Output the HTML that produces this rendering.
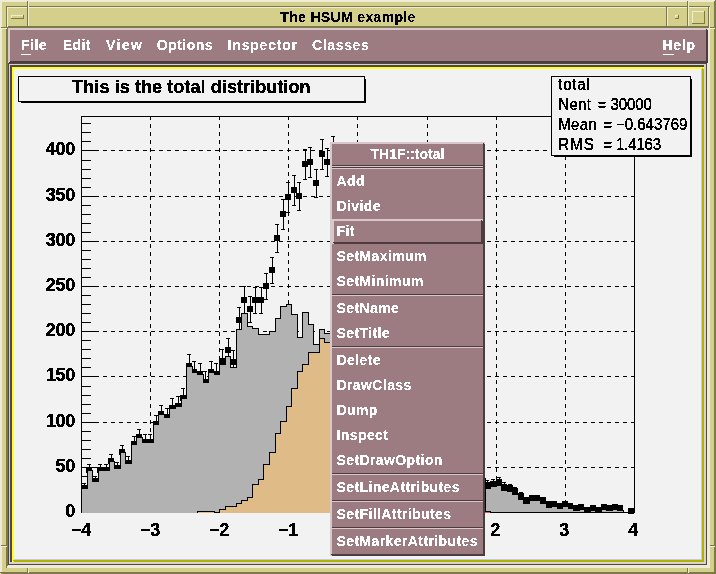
<!DOCTYPE html>
<html><head><meta charset="utf-8"><title>The HSUM example</title>
<style>
html,body{margin:0;padding:0;background:#d4d08c;}
body{width:716px;height:574px;position:relative;overflow:hidden;font-family:"Liberation Sans",sans-serif;}
div{position:absolute;}
.t{font-family:"Liberation Sans",sans-serif;white-space:pre;}
.b{font-weight:bold;}
.mi{font-size:14px;height:20px;line-height:20px;letter-spacing:0.2px;}
.ax{font-size:18px;height:20px;line-height:20px;color:#000;letter-spacing:-0.3px;}
.st{font-size:15px;height:20px;line-height:20px;color:#000;letter-spacing:0.3px;}
.pm{font-size:14px;letter-spacing:0.4px;}
.st span{display:inline-block;transform:scaleY(1.1);transform-origin:0 15.2px;}
.t{filter:url(#thr);}
.b{filter:url(#thb);}
.k,.st{filter:url(#thk);}
</style></head><body>
<svg width="0" height="0" style="position:absolute"><defs><filter id="thr" x="0" y="0" width="100%" height="100%" color-interpolation-filters="sRGB"><feComponentTransfer><feFuncA type="discrete" tableValues="0 1 1"/></feComponentTransfer></filter><filter id="thk" x="0" y="0" width="100%" height="100%" color-interpolation-filters="sRGB"><feComponentTransfer><feFuncA type="discrete" tableValues="0 1 1 1"/></feComponentTransfer></filter><filter id="thb" x="0" y="0" width="100%" height="100%" color-interpolation-filters="sRGB"><feComponentTransfer><feFuncA type="discrete" tableValues="0 0 1 1 1"/></feComponentTransfer></filter></defs></svg>
<div style="left:0px;top:0px;width:716px;height:574px;background:#d4d08c;"></div><div style="left:0px;top:0px;width:716px;height:2px;background:#eeecd6;"></div><div style="left:0px;top:0px;width:2px;height:574px;background:#eeecd6;"></div><div style="left:0px;top:572px;width:716px;height:2px;background:#7c7848;"></div><div style="left:714px;top:0px;width:2px;height:574px;background:#7c7848;"></div><div style="left:714px;top:0px;width:1px;height:1px;background:#eeecd6;"></div><div style="left:0px;top:573px;width:1px;height:1px;background:#eeecd6;"></div><div style="left:6px;top:6px;width:2px;height:560px;background:#7c7848;"></div><div style="left:6px;top:6px;width:704px;height:1px;background:#7c7848;"></div><div style="left:708px;top:7px;width:2px;height:560px;background:#eeecd6;"></div><div style="left:6px;top:566px;width:704px;height:2px;background:#eeecd6;"></div><div style="left:6px;top:566px;width:1px;height:2px;background:#7c7848;"></div><div style="left:27px;top:1px;width:1px;height:5px;background:#7c7848;"></div><div style="left:28px;top:1px;width:1px;height:6px;background:#eeecd6;"></div><div style="left:27px;top:568px;width:1px;height:5px;background:#7c7848;"></div><div style="left:28px;top:568px;width:1px;height:5px;background:#eeecd6;"></div><div style="left:687px;top:1px;width:1px;height:5px;background:#7c7848;"></div><div style="left:688px;top:1px;width:1px;height:6px;background:#eeecd6;"></div><div style="left:687px;top:568px;width:1px;height:5px;background:#7c7848;"></div><div style="left:688px;top:568px;width:1px;height:5px;background:#eeecd6;"></div><div style="left:1px;top:27px;width:5px;height:1px;background:#7c7848;"></div><div style="left:1px;top:28px;width:6px;height:1px;background:#eeecd6;"></div><div style="left:710px;top:27px;width:5px;height:1px;background:#7c7848;"></div><div style="left:710px;top:28px;width:5px;height:1px;background:#eeecd6;"></div><div style="left:1px;top:545px;width:5px;height:1px;background:#7c7848;"></div><div style="left:1px;top:546px;width:6px;height:1px;background:#eeecd6;"></div><div style="left:710px;top:545px;width:5px;height:1px;background:#7c7848;"></div><div style="left:710px;top:546px;width:5px;height:1px;background:#eeecd6;"></div><div style="left:7px;top:7px;width:21px;height:20px;background:#d4d08c;"></div><div style="left:7px;top:7px;width:21px;height:1px;background:#eeecd6;"></div><div style="left:7px;top:7px;width:1px;height:20px;background:#eeecd6;"></div><div style="left:7px;top:26px;width:21px;height:1px;background:#7c7848;"></div><div style="left:27px;top:7px;width:1px;height:20px;background:#7c7848;"></div><div style="left:28px;top:7px;width:639px;height:20px;background:#d4d08c;"></div><div style="left:28px;top:7px;width:639px;height:1px;background:#eeecd6;"></div><div style="left:28px;top:7px;width:1px;height:20px;background:#eeecd6;"></div><div style="left:28px;top:26px;width:639px;height:1px;background:#7c7848;"></div><div style="left:666px;top:7px;width:1px;height:20px;background:#7c7848;"></div><div style="left:667px;top:7px;width:21px;height:20px;background:#d4d08c;"></div><div style="left:667px;top:7px;width:21px;height:1px;background:#eeecd6;"></div><div style="left:667px;top:7px;width:1px;height:20px;background:#eeecd6;"></div><div style="left:667px;top:26px;width:21px;height:1px;background:#7c7848;"></div><div style="left:687px;top:7px;width:1px;height:20px;background:#7c7848;"></div><div style="left:688px;top:7px;width:21px;height:20px;background:#d4d08c;"></div><div style="left:688px;top:7px;width:21px;height:1px;background:#eeecd6;"></div><div style="left:688px;top:7px;width:1px;height:20px;background:#eeecd6;"></div><div style="left:688px;top:26px;width:21px;height:1px;background:#7c7848;"></div><div style="left:708px;top:7px;width:1px;height:20px;background:#7c7848;"></div><div style="left:7px;top:27px;width:702px;height:1px;background:#7c7848;"></div><div style="left:7px;top:26px;width:1px;height:1px;background:#eeecd6;"></div><div style="left:11px;top:15px;width:13px;height:4px;background:#d4d08c;"></div><div style="left:11px;top:15px;width:13px;height:1px;background:#eeecd6;"></div><div style="left:11px;top:15px;width:1px;height:4px;background:#eeecd6;"></div><div style="left:11px;top:18px;width:13px;height:1px;background:#7c7848;"></div><div style="left:23px;top:15px;width:1px;height:4px;background:#7c7848;"></div><div style="left:675px;top:15px;width:4px;height:4px;background:#d4d08c;"></div><div style="left:675px;top:15px;width:4px;height:1px;background:#eeecd6;"></div><div style="left:675px;top:15px;width:1px;height:4px;background:#eeecd6;"></div><div style="left:675px;top:18px;width:4px;height:1px;background:#7c7848;"></div><div style="left:678px;top:15px;width:1px;height:4px;background:#7c7848;"></div><div style="left:692px;top:11px;width:13px;height:13px;background:#d4d08c;"></div><div style="left:692px;top:11px;width:13px;height:1px;background:#eeecd6;"></div><div style="left:692px;top:11px;width:1px;height:13px;background:#eeecd6;"></div><div style="left:692px;top:23px;width:13px;height:1px;background:#7c7848;"></div><div style="left:704px;top:11px;width:1px;height:13px;background:#7c7848;"></div><div class="t b" style="left:29px;top:7px;width:638px;height:20px;line-height:20px;text-align:center;font-size:14px;letter-spacing:0.35px;color:#000">The HSUM example</div><div style="left:8px;top:28px;width:700px;height:35px;background:#9c7c80;"></div><div style="left:8px;top:28px;width:700px;height:2px;background:#d8c8cc;"></div><div style="left:8px;top:28px;width:2px;height:35px;background:#d8c8cc;"></div><div style="left:8px;top:61px;width:700px;height:2px;background:#4c3c40;"></div><div style="left:706px;top:28px;width:2px;height:35px;background:#4c3c40;"></div><div style="left:8px;top:61px;width:1px;height:1px;background:#d8c8cc;"></div><div style="left:8px;top:62px;width:1px;height:1px;background:#d8c8cc;"></div><div style="left:9px;top:61px;width:1px;height:1px;background:#d8c8cc;"></div><div style="left:707px;top:28px;width:1px;height:1px;background:#d8c8cc;"></div><div style="left:706px;top:28px;width:1px;height:1px;background:#d8c8cc;"></div><div style="left:707px;top:29px;width:1px;height:1px;background:#d8c8cc;"></div><div class="t b mi" style="left:21.2px;top:35px;color:#fff;letter-spacing:0.45px">File</div><div class="t b mi" style="left:62.8px;top:35px;color:#fff;letter-spacing:0.35px">Edit</div><div class="t b mi" style="left:106px;top:35px;color:#fff;letter-spacing:1.4px">View</div><div class="t b mi" style="left:156.7px;top:35px;color:#fff;letter-spacing:0.5px">Options</div><div class="t b mi" style="left:227.6px;top:35px;color:#fff;letter-spacing:0.8px">Inspector</div><div class="t b mi" style="left:312px;top:35px;color:#fff;letter-spacing:0.65px">Classes</div><div class="t b mi" style="left:662.4px;top:35px;color:#fff;letter-spacing:0.75px">Help</div><div style="left:21px;top:54px;width:10px;height:1px;background:#fff;"></div><div style="left:663px;top:54px;width:11px;height:1px;background:#fff;"></div><div style="left:8px;top:63px;width:700px;height:503px;background:#d8d4cc;"></div><div style="left:8px;top:63px;width:700px;height:1px;background:#504848;"></div><div style="left:8px;top:63px;width:1px;height:503px;background:#504848;"></div><div style="left:706px;top:64px;width:1px;height:501px;background:#504848;"></div><div style="left:9px;top:564px;width:698px;height:1px;background:#504848;"></div><div style="left:707px;top:63px;width:1px;height:503px;background:#eeecd6;"></div><div style="left:8px;top:565px;width:700px;height:1px;background:#eeecd6;"></div><div style="left:10px;top:65px;width:696px;height:499px;background:#d8d4cc;"></div><div style="left:10px;top:65px;width:694px;height:2px;background:#504848;"></div><div style="left:10px;top:65px;width:2px;height:497px;background:#504848;"></div><div style="left:12px;top:67px;width:692px;height:495px;background:#f2f2f2;"></div><div style="left:12px;top:67px;width:692px;height:2px;background:#ffff20;"></div><div style="left:12px;top:67px;width:2px;height:495px;background:#ffff20;"></div><div style="left:14px;top:560px;width:690px;height:2px;background:#b2b200;"></div><div style="left:702px;top:69px;width:2px;height:493px;background:#b2b200;"></div><div style="left:13px;top:560px;width:1px;height:1px;background:#b2b200;"></div><div style="left:702px;top:68px;width:1px;height:1px;background:#b2b200;"></div><div style="left:701px;top:69px;width:1px;height:491px;background:#c8c8e0;"></div><div style="left:14px;top:559px;width:688px;height:1px;background:#c8c8e0;"></div><div style="left:12px;top:561px;width:1px;height:1px;background:#ffff20;"></div><div style="left:703px;top:67px;width:1px;height:1px;background:#ffff20;"></div><svg width="716" height="574" viewBox="0 0 716 574" shape-rendering="crispEdges" style="position:absolute;left:0;top:0"><rect x="81" y="116" width="554" height="1" fill="#000"/>
<rect x="81" y="512" width="554" height="1" fill="#000"/>
<rect x="81" y="116" width="1" height="397" fill="#000"/>
<rect x="634" y="116" width="1" height="397" fill="#000"/>
<line x1="150.5" y1="117" x2="150.5" y2="512" stroke="#000" stroke-width="1" stroke-dasharray="4,4" stroke-dashoffset="1"/>
<line x1="219.5" y1="117" x2="219.5" y2="512" stroke="#000" stroke-width="1" stroke-dasharray="4,4" stroke-dashoffset="1"/>
<line x1="288.5" y1="117" x2="288.5" y2="512" stroke="#000" stroke-width="1" stroke-dasharray="4,4" stroke-dashoffset="1"/>
<line x1="357.5" y1="117" x2="357.5" y2="512" stroke="#000" stroke-width="1" stroke-dasharray="4,4" stroke-dashoffset="1"/>
<line x1="427.5" y1="117" x2="427.5" y2="512" stroke="#000" stroke-width="1" stroke-dasharray="4,4" stroke-dashoffset="1"/>
<line x1="496.5" y1="117" x2="496.5" y2="512" stroke="#000" stroke-width="1" stroke-dasharray="4,4" stroke-dashoffset="1"/>
<line x1="565.5" y1="117" x2="565.5" y2="512" stroke="#000" stroke-width="1" stroke-dasharray="4,4" stroke-dashoffset="1"/>
<line x1="82" y1="150.5" x2="634" y2="150.5" stroke="#000" stroke-width="1" stroke-dasharray="4,4" stroke-dashoffset="3"/>
<line x1="82" y1="196.5" x2="634" y2="196.5" stroke="#000" stroke-width="1" stroke-dasharray="4,4" stroke-dashoffset="3"/>
<line x1="82" y1="241.5" x2="634" y2="241.5" stroke="#000" stroke-width="1" stroke-dasharray="4,4" stroke-dashoffset="3"/>
<line x1="82" y1="286.5" x2="634" y2="286.5" stroke="#000" stroke-width="1" stroke-dasharray="4,4" stroke-dashoffset="3"/>
<line x1="82" y1="331.5" x2="634" y2="331.5" stroke="#000" stroke-width="1" stroke-dasharray="4,4" stroke-dashoffset="3"/>
<line x1="82" y1="376.5" x2="634" y2="376.5" stroke="#000" stroke-width="1" stroke-dasharray="4,4" stroke-dashoffset="3"/>
<line x1="82" y1="422.5" x2="634" y2="422.5" stroke="#000" stroke-width="1" stroke-dasharray="4,4" stroke-dashoffset="3"/>
<line x1="82" y1="467.5" x2="634" y2="467.5" stroke="#000" stroke-width="1" stroke-dasharray="4,4" stroke-dashoffset="3"/>
<rect x="82" y="512" width="17" height="1" fill="#000"/>
<rect x="82" y="503" width="9" height="1" fill="#000"/>
<rect x="82" y="494" width="9" height="1" fill="#000"/>
<rect x="82" y="485" width="9" height="1" fill="#000"/>
<rect x="82" y="476" width="9" height="1" fill="#000"/>
<rect x="82" y="467" width="17" height="1" fill="#000"/>
<rect x="82" y="458" width="9" height="1" fill="#000"/>
<rect x="82" y="449" width="9" height="1" fill="#000"/>
<rect x="82" y="440" width="9" height="1" fill="#000"/>
<rect x="82" y="431" width="9" height="1" fill="#000"/>
<rect x="82" y="422" width="17" height="1" fill="#000"/>
<rect x="82" y="413" width="9" height="1" fill="#000"/>
<rect x="82" y="404" width="9" height="1" fill="#000"/>
<rect x="82" y="395" width="9" height="1" fill="#000"/>
<rect x="82" y="386" width="9" height="1" fill="#000"/>
<rect x="82" y="376" width="17" height="1" fill="#000"/>
<rect x="82" y="367" width="9" height="1" fill="#000"/>
<rect x="82" y="358" width="9" height="1" fill="#000"/>
<rect x="82" y="349" width="9" height="1" fill="#000"/>
<rect x="82" y="340" width="9" height="1" fill="#000"/>
<rect x="82" y="331" width="17" height="1" fill="#000"/>
<rect x="82" y="322" width="9" height="1" fill="#000"/>
<rect x="82" y="313" width="9" height="1" fill="#000"/>
<rect x="82" y="304" width="9" height="1" fill="#000"/>
<rect x="82" y="295" width="9" height="1" fill="#000"/>
<rect x="82" y="286" width="17" height="1" fill="#000"/>
<rect x="82" y="277" width="9" height="1" fill="#000"/>
<rect x="82" y="268" width="9" height="1" fill="#000"/>
<rect x="82" y="259" width="9" height="1" fill="#000"/>
<rect x="82" y="250" width="9" height="1" fill="#000"/>
<rect x="82" y="241" width="17" height="1" fill="#000"/>
<rect x="82" y="232" width="9" height="1" fill="#000"/>
<rect x="82" y="223" width="9" height="1" fill="#000"/>
<rect x="82" y="214" width="9" height="1" fill="#000"/>
<rect x="82" y="205" width="9" height="1" fill="#000"/>
<rect x="82" y="196" width="17" height="1" fill="#000"/>
<rect x="82" y="187" width="9" height="1" fill="#000"/>
<rect x="82" y="178" width="9" height="1" fill="#000"/>
<rect x="82" y="169" width="9" height="1" fill="#000"/>
<rect x="82" y="160" width="9" height="1" fill="#000"/>
<rect x="82" y="150" width="17" height="1" fill="#000"/>
<rect x="82" y="141" width="9" height="1" fill="#000"/>
<rect x="82" y="132" width="9" height="1" fill="#000"/>
<rect x="82" y="123" width="9" height="1" fill="#000"/>
<rect x="84" y="483" width="1" height="11" fill="#000"/>
<rect x="82" y="483" width="4" height="1" fill="#000"/>
<rect x="82" y="493" width="4" height="1" fill="#000"/>
<rect x="81" y="485" width="6" height="6" fill="#000"/>
<rect x="89" y="464" width="1" height="13" fill="#000"/>
<rect x="87" y="464" width="4" height="1" fill="#000"/>
<rect x="87" y="476" width="4" height="1" fill="#000"/>
<rect x="86" y="467" width="6" height="6" fill="#000"/>
<rect x="95" y="476" width="1" height="11" fill="#000"/>
<rect x="93" y="476" width="4" height="1" fill="#000"/>
<rect x="93" y="486" width="4" height="1" fill="#000"/>
<rect x="92" y="478" width="6" height="6" fill="#000"/>
<rect x="100" y="464" width="1" height="13" fill="#000"/>
<rect x="98" y="464" width="4" height="1" fill="#000"/>
<rect x="98" y="476" width="4" height="1" fill="#000"/>
<rect x="97" y="467" width="6" height="6" fill="#000"/>
<rect x="106" y="464" width="1" height="13" fill="#000"/>
<rect x="104" y="464" width="4" height="1" fill="#000"/>
<rect x="104" y="476" width="4" height="1" fill="#000"/>
<rect x="103" y="467" width="6" height="6" fill="#000"/>
<rect x="111" y="454" width="1" height="15" fill="#000"/>
<rect x="109" y="454" width="4" height="1" fill="#000"/>
<rect x="109" y="468" width="4" height="1" fill="#000"/>
<rect x="108" y="458" width="6" height="6" fill="#000"/>
<rect x="117" y="462" width="1" height="13" fill="#000"/>
<rect x="115" y="462" width="4" height="1" fill="#000"/>
<rect x="115" y="474" width="4" height="1" fill="#000"/>
<rect x="114" y="465" width="6" height="6" fill="#000"/>
<rect x="122" y="445" width="1" height="15" fill="#000"/>
<rect x="120" y="445" width="4" height="1" fill="#000"/>
<rect x="120" y="459" width="4" height="1" fill="#000"/>
<rect x="119" y="449" width="6" height="6" fill="#000"/>
<rect x="128" y="456" width="1" height="15" fill="#000"/>
<rect x="126" y="456" width="4" height="1" fill="#000"/>
<rect x="126" y="470" width="4" height="1" fill="#000"/>
<rect x="125" y="460" width="6" height="6" fill="#000"/>
<rect x="134" y="436" width="1" height="17" fill="#000"/>
<rect x="132" y="436" width="4" height="1" fill="#000"/>
<rect x="132" y="452" width="4" height="1" fill="#000"/>
<rect x="131" y="441" width="6" height="6" fill="#000"/>
<rect x="139" y="429" width="1" height="17" fill="#000"/>
<rect x="137" y="429" width="4" height="1" fill="#000"/>
<rect x="137" y="445" width="4" height="1" fill="#000"/>
<rect x="136" y="434" width="6" height="6" fill="#000"/>
<rect x="145" y="434" width="1" height="17" fill="#000"/>
<rect x="143" y="434" width="4" height="1" fill="#000"/>
<rect x="143" y="450" width="4" height="1" fill="#000"/>
<rect x="142" y="439" width="6" height="6" fill="#000"/>
<rect x="150" y="434" width="1" height="17" fill="#000"/>
<rect x="148" y="434" width="4" height="1" fill="#000"/>
<rect x="148" y="450" width="4" height="1" fill="#000"/>
<rect x="147" y="439" width="6" height="6" fill="#000"/>
<rect x="156" y="415" width="1" height="19" fill="#000"/>
<rect x="154" y="415" width="4" height="1" fill="#000"/>
<rect x="154" y="433" width="4" height="1" fill="#000"/>
<rect x="153" y="421" width="6" height="6" fill="#000"/>
<rect x="161" y="405" width="1" height="19" fill="#000"/>
<rect x="159" y="405" width="4" height="1" fill="#000"/>
<rect x="159" y="423" width="4" height="1" fill="#000"/>
<rect x="158" y="411" width="6" height="6" fill="#000"/>
<rect x="167" y="408" width="1" height="19" fill="#000"/>
<rect x="165" y="408" width="4" height="1" fill="#000"/>
<rect x="165" y="426" width="4" height="1" fill="#000"/>
<rect x="164" y="414" width="6" height="6" fill="#000"/>
<rect x="172" y="398" width="1" height="21" fill="#000"/>
<rect x="170" y="398" width="4" height="1" fill="#000"/>
<rect x="170" y="418" width="4" height="1" fill="#000"/>
<rect x="169" y="405" width="6" height="6" fill="#000"/>
<rect x="178" y="396" width="1" height="21" fill="#000"/>
<rect x="176" y="396" width="4" height="1" fill="#000"/>
<rect x="176" y="416" width="4" height="1" fill="#000"/>
<rect x="175" y="403" width="6" height="6" fill="#000"/>
<rect x="183" y="388" width="1" height="21" fill="#000"/>
<rect x="181" y="388" width="4" height="1" fill="#000"/>
<rect x="181" y="408" width="4" height="1" fill="#000"/>
<rect x="180" y="395" width="6" height="6" fill="#000"/>
<rect x="189" y="354" width="1" height="25" fill="#000"/>
<rect x="187" y="354" width="4" height="1" fill="#000"/>
<rect x="187" y="378" width="4" height="1" fill="#000"/>
<rect x="186" y="363" width="6" height="6" fill="#000"/>
<rect x="194" y="361" width="1" height="23" fill="#000"/>
<rect x="192" y="361" width="4" height="1" fill="#000"/>
<rect x="192" y="383" width="4" height="1" fill="#000"/>
<rect x="191" y="369" width="6" height="6" fill="#000"/>
<rect x="200" y="363" width="1" height="23" fill="#000"/>
<rect x="198" y="363" width="4" height="1" fill="#000"/>
<rect x="198" y="385" width="4" height="1" fill="#000"/>
<rect x="197" y="371" width="6" height="6" fill="#000"/>
<rect x="205" y="371" width="1" height="23" fill="#000"/>
<rect x="203" y="371" width="4" height="1" fill="#000"/>
<rect x="203" y="393" width="4" height="1" fill="#000"/>
<rect x="202" y="379" width="6" height="6" fill="#000"/>
<rect x="211" y="361" width="1" height="23" fill="#000"/>
<rect x="209" y="361" width="4" height="1" fill="#000"/>
<rect x="209" y="383" width="4" height="1" fill="#000"/>
<rect x="208" y="369" width="6" height="6" fill="#000"/>
<rect x="216" y="363" width="1" height="23" fill="#000"/>
<rect x="214" y="363" width="4" height="1" fill="#000"/>
<rect x="214" y="385" width="4" height="1" fill="#000"/>
<rect x="213" y="371" width="6" height="6" fill="#000"/>
<rect x="222" y="349" width="1" height="25" fill="#000"/>
<rect x="220" y="349" width="4" height="1" fill="#000"/>
<rect x="220" y="373" width="4" height="1" fill="#000"/>
<rect x="219" y="358" width="6" height="6" fill="#000"/>
<rect x="228" y="338" width="1" height="25" fill="#000"/>
<rect x="226" y="338" width="4" height="1" fill="#000"/>
<rect x="226" y="362" width="4" height="1" fill="#000"/>
<rect x="225" y="347" width="6" height="6" fill="#000"/>
<rect x="233" y="350" width="1" height="25" fill="#000"/>
<rect x="231" y="350" width="4" height="1" fill="#000"/>
<rect x="231" y="374" width="4" height="1" fill="#000"/>
<rect x="230" y="359" width="6" height="6" fill="#000"/>
<rect x="239" y="307" width="1" height="27" fill="#000"/>
<rect x="237" y="307" width="4" height="1" fill="#000"/>
<rect x="237" y="333" width="4" height="1" fill="#000"/>
<rect x="236" y="317" width="6" height="6" fill="#000"/>
<rect x="244" y="286" width="1" height="29" fill="#000"/>
<rect x="242" y="286" width="4" height="1" fill="#000"/>
<rect x="242" y="314" width="4" height="1" fill="#000"/>
<rect x="241" y="297" width="6" height="6" fill="#000"/>
<rect x="250" y="296" width="1" height="27" fill="#000"/>
<rect x="248" y="296" width="4" height="1" fill="#000"/>
<rect x="248" y="322" width="4" height="1" fill="#000"/>
<rect x="247" y="306" width="6" height="6" fill="#000"/>
<rect x="255" y="287" width="1" height="27" fill="#000"/>
<rect x="253" y="287" width="4" height="1" fill="#000"/>
<rect x="253" y="313" width="4" height="1" fill="#000"/>
<rect x="252" y="297" width="6" height="6" fill="#000"/>
<rect x="261" y="287" width="1" height="27" fill="#000"/>
<rect x="259" y="287" width="4" height="1" fill="#000"/>
<rect x="259" y="313" width="4" height="1" fill="#000"/>
<rect x="258" y="297" width="6" height="6" fill="#000"/>
<rect x="266" y="273" width="1" height="27" fill="#000"/>
<rect x="264" y="273" width="4" height="1" fill="#000"/>
<rect x="264" y="299" width="4" height="1" fill="#000"/>
<rect x="263" y="283" width="6" height="6" fill="#000"/>
<rect x="272" y="257" width="1" height="27" fill="#000"/>
<rect x="270" y="257" width="4" height="1" fill="#000"/>
<rect x="270" y="283" width="4" height="1" fill="#000"/>
<rect x="269" y="267" width="6" height="6" fill="#000"/>
<rect x="277" y="224" width="1" height="29" fill="#000"/>
<rect x="275" y="224" width="4" height="1" fill="#000"/>
<rect x="275" y="252" width="4" height="1" fill="#000"/>
<rect x="274" y="235" width="6" height="6" fill="#000"/>
<rect x="283" y="199" width="1" height="31" fill="#000"/>
<rect x="281" y="199" width="4" height="1" fill="#000"/>
<rect x="281" y="229" width="4" height="1" fill="#000"/>
<rect x="280" y="211" width="6" height="6" fill="#000"/>
<rect x="288" y="182" width="1" height="31" fill="#000"/>
<rect x="286" y="182" width="4" height="1" fill="#000"/>
<rect x="286" y="212" width="4" height="1" fill="#000"/>
<rect x="285" y="194" width="6" height="6" fill="#000"/>
<rect x="294" y="175" width="1" height="31" fill="#000"/>
<rect x="292" y="175" width="4" height="1" fill="#000"/>
<rect x="292" y="205" width="4" height="1" fill="#000"/>
<rect x="291" y="187" width="6" height="6" fill="#000"/>
<rect x="299" y="182" width="1" height="29" fill="#000"/>
<rect x="297" y="182" width="4" height="1" fill="#000"/>
<rect x="297" y="210" width="4" height="1" fill="#000"/>
<rect x="296" y="193" width="6" height="6" fill="#000"/>
<rect x="305" y="149" width="1" height="31" fill="#000"/>
<rect x="303" y="149" width="4" height="1" fill="#000"/>
<rect x="303" y="179" width="4" height="1" fill="#000"/>
<rect x="302" y="161" width="6" height="6" fill="#000"/>
<rect x="310" y="147" width="1" height="31" fill="#000"/>
<rect x="308" y="147" width="4" height="1" fill="#000"/>
<rect x="308" y="177" width="4" height="1" fill="#000"/>
<rect x="307" y="159" width="6" height="6" fill="#000"/>
<rect x="316" y="169" width="1" height="29" fill="#000"/>
<rect x="314" y="169" width="4" height="1" fill="#000"/>
<rect x="314" y="197" width="4" height="1" fill="#000"/>
<rect x="313" y="180" width="6" height="6" fill="#000"/>
<rect x="322" y="139" width="1" height="31" fill="#000"/>
<rect x="320" y="139" width="4" height="1" fill="#000"/>
<rect x="320" y="169" width="4" height="1" fill="#000"/>
<rect x="319" y="151" width="6" height="6" fill="#000"/>
<rect x="327" y="148" width="1" height="29" fill="#000"/>
<rect x="325" y="148" width="4" height="1" fill="#000"/>
<rect x="325" y="176" width="4" height="1" fill="#000"/>
<rect x="324" y="159" width="6" height="6" fill="#000"/>
<rect x="333" y="136" width="1" height="31" fill="#000"/>
<rect x="331" y="136" width="4" height="1" fill="#000"/>
<rect x="331" y="166" width="4" height="1" fill="#000"/>
<rect x="330" y="148" width="6" height="6" fill="#000"/>
<rect x="338" y="170" width="1" height="29" fill="#000"/>
<rect x="336" y="170" width="4" height="1" fill="#000"/>
<rect x="336" y="198" width="4" height="1" fill="#000"/>
<rect x="335" y="181" width="6" height="6" fill="#000"/>
<rect x="344" y="187" width="1" height="29" fill="#000"/>
<rect x="342" y="187" width="4" height="1" fill="#000"/>
<rect x="342" y="215" width="4" height="1" fill="#000"/>
<rect x="341" y="198" width="6" height="6" fill="#000"/>
<rect x="349" y="208" width="1" height="27" fill="#000"/>
<rect x="347" y="208" width="4" height="1" fill="#000"/>
<rect x="347" y="234" width="4" height="1" fill="#000"/>
<rect x="346" y="218" width="6" height="6" fill="#000"/>
<rect x="355" y="229" width="1" height="27" fill="#000"/>
<rect x="353" y="229" width="4" height="1" fill="#000"/>
<rect x="353" y="255" width="4" height="1" fill="#000"/>
<rect x="352" y="239" width="6" height="6" fill="#000"/>
<rect x="360" y="251" width="1" height="27" fill="#000"/>
<rect x="358" y="251" width="4" height="1" fill="#000"/>
<rect x="358" y="277" width="4" height="1" fill="#000"/>
<rect x="357" y="261" width="6" height="6" fill="#000"/>
<rect x="366" y="274" width="1" height="25" fill="#000"/>
<rect x="364" y="274" width="4" height="1" fill="#000"/>
<rect x="364" y="298" width="4" height="1" fill="#000"/>
<rect x="363" y="283" width="6" height="6" fill="#000"/>
<rect x="371" y="296" width="1" height="25" fill="#000"/>
<rect x="369" y="296" width="4" height="1" fill="#000"/>
<rect x="369" y="320" width="4" height="1" fill="#000"/>
<rect x="368" y="305" width="6" height="6" fill="#000"/>
<rect x="377" y="315" width="1" height="25" fill="#000"/>
<rect x="375" y="315" width="4" height="1" fill="#000"/>
<rect x="375" y="339" width="4" height="1" fill="#000"/>
<rect x="374" y="324" width="6" height="6" fill="#000"/>
<rect x="382" y="334" width="1" height="23" fill="#000"/>
<rect x="380" y="334" width="4" height="1" fill="#000"/>
<rect x="380" y="356" width="4" height="1" fill="#000"/>
<rect x="379" y="342" width="6" height="6" fill="#000"/>
<rect x="388" y="350" width="1" height="23" fill="#000"/>
<rect x="386" y="350" width="4" height="1" fill="#000"/>
<rect x="386" y="372" width="4" height="1" fill="#000"/>
<rect x="385" y="358" width="6" height="6" fill="#000"/>
<rect x="393" y="365" width="1" height="21" fill="#000"/>
<rect x="391" y="365" width="4" height="1" fill="#000"/>
<rect x="391" y="385" width="4" height="1" fill="#000"/>
<rect x="390" y="372" width="6" height="6" fill="#000"/>
<rect x="399" y="378" width="1" height="21" fill="#000"/>
<rect x="397" y="378" width="4" height="1" fill="#000"/>
<rect x="397" y="398" width="4" height="1" fill="#000"/>
<rect x="396" y="385" width="6" height="6" fill="#000"/>
<rect x="405" y="389" width="1" height="21" fill="#000"/>
<rect x="403" y="389" width="4" height="1" fill="#000"/>
<rect x="403" y="409" width="4" height="1" fill="#000"/>
<rect x="402" y="396" width="6" height="6" fill="#000"/>
<rect x="410" y="399" width="1" height="19" fill="#000"/>
<rect x="408" y="399" width="4" height="1" fill="#000"/>
<rect x="408" y="417" width="4" height="1" fill="#000"/>
<rect x="407" y="405" width="6" height="6" fill="#000"/>
<rect x="416" y="407" width="1" height="19" fill="#000"/>
<rect x="414" y="407" width="4" height="1" fill="#000"/>
<rect x="414" y="425" width="4" height="1" fill="#000"/>
<rect x="413" y="413" width="6" height="6" fill="#000"/>
<rect x="421" y="415" width="1" height="19" fill="#000"/>
<rect x="419" y="415" width="4" height="1" fill="#000"/>
<rect x="419" y="433" width="4" height="1" fill="#000"/>
<rect x="418" y="421" width="6" height="6" fill="#000"/>
<rect x="427" y="422" width="1" height="17" fill="#000"/>
<rect x="425" y="422" width="4" height="1" fill="#000"/>
<rect x="425" y="438" width="4" height="1" fill="#000"/>
<rect x="424" y="427" width="6" height="6" fill="#000"/>
<rect x="432" y="428" width="1" height="17" fill="#000"/>
<rect x="430" y="428" width="4" height="1" fill="#000"/>
<rect x="430" y="444" width="4" height="1" fill="#000"/>
<rect x="429" y="433" width="6" height="6" fill="#000"/>
<rect x="438" y="432" width="1" height="17" fill="#000"/>
<rect x="436" y="432" width="4" height="1" fill="#000"/>
<rect x="436" y="448" width="4" height="1" fill="#000"/>
<rect x="435" y="437" width="6" height="6" fill="#000"/>
<rect x="443" y="436" width="1" height="17" fill="#000"/>
<rect x="441" y="436" width="4" height="1" fill="#000"/>
<rect x="441" y="452" width="4" height="1" fill="#000"/>
<rect x="440" y="441" width="6" height="6" fill="#000"/>
<rect x="449" y="440" width="1" height="15" fill="#000"/>
<rect x="447" y="440" width="4" height="1" fill="#000"/>
<rect x="447" y="454" width="4" height="1" fill="#000"/>
<rect x="446" y="444" width="6" height="6" fill="#000"/>
<rect x="454" y="442" width="1" height="15" fill="#000"/>
<rect x="452" y="442" width="4" height="1" fill="#000"/>
<rect x="452" y="456" width="4" height="1" fill="#000"/>
<rect x="451" y="446" width="6" height="6" fill="#000"/>
<rect x="460" y="443" width="1" height="15" fill="#000"/>
<rect x="458" y="443" width="4" height="1" fill="#000"/>
<rect x="458" y="457" width="4" height="1" fill="#000"/>
<rect x="457" y="447" width="6" height="6" fill="#000"/>
<rect x="465" y="443" width="1" height="15" fill="#000"/>
<rect x="463" y="443" width="4" height="1" fill="#000"/>
<rect x="463" y="457" width="4" height="1" fill="#000"/>
<rect x="462" y="447" width="6" height="6" fill="#000"/>
<rect x="471" y="445" width="1" height="13" fill="#000"/>
<rect x="469" y="445" width="4" height="1" fill="#000"/>
<rect x="469" y="457" width="4" height="1" fill="#000"/>
<rect x="468" y="448" width="6" height="6" fill="#000"/>
<rect x="476" y="445" width="1" height="13" fill="#000"/>
<rect x="474" y="445" width="4" height="1" fill="#000"/>
<rect x="474" y="457" width="4" height="1" fill="#000"/>
<rect x="473" y="448" width="6" height="6" fill="#000"/>
<rect x="482" y="446" width="1" height="13" fill="#000"/>
<rect x="480" y="446" width="4" height="1" fill="#000"/>
<rect x="480" y="458" width="4" height="1" fill="#000"/>
<rect x="479" y="449" width="6" height="6" fill="#000"/>
<rect x="487" y="480" width="1" height="11" fill="#000"/>
<rect x="485" y="480" width="4" height="1" fill="#000"/>
<rect x="485" y="490" width="4" height="1" fill="#000"/>
<rect x="484" y="482" width="6" height="6" fill="#000"/>
<rect x="493" y="479" width="1" height="11" fill="#000"/>
<rect x="491" y="479" width="4" height="1" fill="#000"/>
<rect x="491" y="489" width="4" height="1" fill="#000"/>
<rect x="490" y="481" width="6" height="6" fill="#000"/>
<rect x="499" y="477" width="1" height="11" fill="#000"/>
<rect x="497" y="477" width="4" height="1" fill="#000"/>
<rect x="497" y="487" width="4" height="1" fill="#000"/>
<rect x="496" y="479" width="6" height="6" fill="#000"/>
<rect x="504" y="482" width="1" height="11" fill="#000"/>
<rect x="502" y="482" width="4" height="1" fill="#000"/>
<rect x="502" y="492" width="4" height="1" fill="#000"/>
<rect x="501" y="484" width="6" height="6" fill="#000"/>
<rect x="510" y="484" width="1" height="9" fill="#000"/>
<rect x="508" y="484" width="4" height="1" fill="#000"/>
<rect x="508" y="492" width="4" height="1" fill="#000"/>
<rect x="507" y="485" width="6" height="6" fill="#000"/>
<rect x="515" y="487" width="1" height="9" fill="#000"/>
<rect x="513" y="487" width="4" height="1" fill="#000"/>
<rect x="513" y="495" width="4" height="1" fill="#000"/>
<rect x="512" y="488" width="6" height="6" fill="#000"/>
<rect x="521" y="492" width="1" height="9" fill="#000"/>
<rect x="519" y="492" width="4" height="1" fill="#000"/>
<rect x="519" y="500" width="4" height="1" fill="#000"/>
<rect x="518" y="493" width="6" height="6" fill="#000"/>
<rect x="523" y="497" width="6" height="6" fill="#000"/>
<rect x="529" y="495" width="6" height="6" fill="#000"/>
<rect x="534" y="495" width="6" height="6" fill="#000"/>
<rect x="540" y="497" width="6" height="6" fill="#000"/>
<rect x="545" y="501" width="6" height="6" fill="#000"/>
<rect x="551" y="501" width="6" height="6" fill="#000"/>
<rect x="556" y="503" width="6" height="6" fill="#000"/>
<rect x="562" y="501" width="6" height="6" fill="#000"/>
<rect x="567" y="503" width="6" height="6" fill="#000"/>
<rect x="573" y="505" width="6" height="6" fill="#000"/>
<rect x="578" y="504" width="6" height="6" fill="#000"/>
<rect x="584" y="507" width="6" height="6" fill="#000"/>
<rect x="590" y="505" width="6" height="6" fill="#000"/>
<rect x="595" y="507" width="6" height="6" fill="#000"/>
<rect x="601" y="504" width="6" height="6" fill="#000"/>
<rect x="606" y="505" width="6" height="6" fill="#000"/>
<rect x="612" y="504" width="6" height="6" fill="#000"/>
<rect x="617" y="505" width="6" height="6" fill="#000"/>
<rect x="628" y="508" width="6" height="6" fill="#000"/>
<path d="M81.5,512.5 L81.5,488.5 L87.5,488.5 L87.5,470.5 L92.5,470.5 L92.5,481.5 L98.5,481.5 L98.5,470.5 L103.5,470.5 L103.5,470.5 L109.5,470.5 L109.5,461.5 L114.5,461.5 L114.5,468.5 L120.5,468.5 L120.5,452.5 L125.5,452.5 L125.5,463.5 L131.5,463.5 L131.5,444.5 L136.5,444.5 L136.5,437.5 L142.5,437.5 L142.5,442.5 L147.5,442.5 L147.5,442.5 L153.5,442.5 L153.5,424.5 L158.5,424.5 L158.5,414.5 L164.5,414.5 L164.5,417.5 L169.5,417.5 L169.5,408.5 L175.5,408.5 L175.5,406.5 L181.5,406.5 L181.5,398.5 L186.5,398.5 L186.5,366.5 L192.5,366.5 L192.5,372.5 L197.5,372.5 L197.5,374.5 L203.5,374.5 L203.5,382.5 L208.5,382.5 L208.5,372.5 L214.5,372.5 L214.5,374.5 L219.5,374.5 L219.5,364.5 L225.5,364.5 L225.5,356.5 L230.5,356.5 L230.5,367.5 L236.5,367.5 L236.5,329.5 L241.5,329.5 L241.5,313.5 L247.5,313.5 L247.5,326.5 L252.5,326.5 L252.5,328.5 L258.5,328.5 L258.5,334.5 L263.5,334.5 L263.5,334.5 L269.5,334.5 L269.5,331.5 L275.5,331.5 L275.5,318.5 L280.5,318.5 L280.5,306.5 L286.5,306.5 L286.5,304.5 L291.5,304.5 L291.5,314.5 L297.5,314.5 L297.5,337.5 L302.5,337.5 L302.5,312.5 L308.5,312.5 L308.5,324.5 L313.5,324.5 L313.5,344.5 L319.5,344.5 L319.5,329.5 L324.5,329.5 L324.5,333.5 L330.5,333.5 L330.5,337.5 L335.5,337.5 L335.5,341.5 L341.5,341.5 L341.5,345.5 L346.5,345.5 L346.5,350.5 L352.5,350.5 L352.5,355.5 L358.5,355.5 L358.5,361.5 L363.5,361.5 L363.5,367.5 L369.5,367.5 L369.5,373.5 L374.5,373.5 L374.5,379.5 L380.5,379.5 L380.5,385.5 L385.5,385.5 L385.5,391.5 L391.5,391.5 L391.5,397.5 L396.5,397.5 L396.5,403.5 L402.5,403.5 L402.5,409.5 L407.5,409.5 L407.5,416.5 L413.5,416.5 L413.5,421.5 L418.5,421.5 L418.5,427.5 L424.5,427.5 L424.5,433.5 L429.5,433.5 L429.5,439.5 L435.5,439.5 L435.5,444.5 L440.5,444.5 L440.5,449.5 L446.5,449.5 L446.5,454.5 L452.5,454.5 L452.5,459.5 L457.5,459.5 L457.5,463.5 L463.5,463.5 L463.5,467.5 L468.5,467.5 L468.5,471.5 L474.5,471.5 L474.5,475.5 L479.5,475.5 L479.5,478.5 L485.5,478.5 L485.5,488.5 L490.5,488.5 L490.5,486.5 L496.5,486.5 L496.5,485.5 L501.5,485.5 L501.5,490.5 L507.5,490.5 L507.5,491.5 L512.5,491.5 L512.5,494.5 L518.5,494.5 L518.5,499.5 L523.5,499.5 L523.5,503.5 L529.5,503.5 L529.5,500.5 L534.5,500.5 L534.5,500.5 L540.5,500.5 L540.5,503.5 L546.5,503.5 L546.5,507.5 L551.5,507.5 L551.5,506.5 L557.5,506.5 L557.5,508.5 L562.5,508.5 L562.5,506.5 L568.5,506.5 L568.5,508.5 L573.5,508.5 L573.5,510.5 L579.5,510.5 L579.5,509.5 L584.5,509.5 L584.5,511.5 L590.5,511.5 L590.5,510.5 L595.5,510.5 L595.5,511.5 L601.5,511.5 L601.5,509.5 L606.5,509.5 L606.5,510.5 L612.5,510.5 L612.5,509.5 L617.5,509.5 L617.5,510.5 L623.5,510.5 L623.5,512.5 L628.5,512.5 L628.5,511.5 L634.5,511.5 L634.5,512.5Z" fill="#b2b2b2" stroke="none"/><path d="M81.5,512.5 L81.5,488.5 L87.5,488.5 L87.5,470.5 L92.5,470.5 L92.5,481.5 L98.5,481.5 L98.5,470.5 L103.5,470.5 L103.5,470.5 L109.5,470.5 L109.5,461.5 L114.5,461.5 L114.5,468.5 L120.5,468.5 L120.5,452.5 L125.5,452.5 L125.5,463.5 L131.5,463.5 L131.5,444.5 L136.5,444.5 L136.5,437.5 L142.5,437.5 L142.5,442.5 L147.5,442.5 L147.5,442.5 L153.5,442.5 L153.5,424.5 L158.5,424.5 L158.5,414.5 L164.5,414.5 L164.5,417.5 L169.5,417.5 L169.5,408.5 L175.5,408.5 L175.5,406.5 L181.5,406.5 L181.5,398.5 L186.5,398.5 L186.5,366.5 L192.5,366.5 L192.5,372.5 L197.5,372.5 L197.5,374.5 L203.5,374.5 L203.5,382.5 L208.5,382.5 L208.5,372.5 L214.5,372.5 L214.5,374.5 L219.5,374.5 L219.5,364.5 L225.5,364.5 L225.5,356.5 L230.5,356.5 L230.5,367.5 L236.5,367.5 L236.5,329.5 L241.5,329.5 L241.5,313.5 L247.5,313.5 L247.5,326.5 L252.5,326.5 L252.5,328.5 L258.5,328.5 L258.5,334.5 L263.5,334.5 L263.5,334.5 L269.5,334.5 L269.5,331.5 L275.5,331.5 L275.5,318.5 L280.5,318.5 L280.5,306.5 L286.5,306.5 L286.5,304.5 L291.5,304.5 L291.5,314.5 L297.5,314.5 L297.5,337.5 L302.5,337.5 L302.5,312.5 L308.5,312.5 L308.5,324.5 L313.5,324.5 L313.5,344.5 L319.5,344.5 L319.5,329.5 L324.5,329.5 L324.5,333.5 L330.5,333.5 L330.5,337.5 L335.5,337.5 L335.5,341.5 L341.5,341.5 L341.5,345.5 L346.5,345.5 L346.5,350.5 L352.5,350.5 L352.5,355.5 L358.5,355.5 L358.5,361.5 L363.5,361.5 L363.5,367.5 L369.5,367.5 L369.5,373.5 L374.5,373.5 L374.5,379.5 L380.5,379.5 L380.5,385.5 L385.5,385.5 L385.5,391.5 L391.5,391.5 L391.5,397.5 L396.5,397.5 L396.5,403.5 L402.5,403.5 L402.5,409.5 L407.5,409.5 L407.5,416.5 L413.5,416.5 L413.5,421.5 L418.5,421.5 L418.5,427.5 L424.5,427.5 L424.5,433.5 L429.5,433.5 L429.5,439.5 L435.5,439.5 L435.5,444.5 L440.5,444.5 L440.5,449.5 L446.5,449.5 L446.5,454.5 L452.5,454.5 L452.5,459.5 L457.5,459.5 L457.5,463.5 L463.5,463.5 L463.5,467.5 L468.5,467.5 L468.5,471.5 L474.5,471.5 L474.5,475.5 L479.5,475.5 L479.5,478.5 L485.5,478.5 L485.5,488.5 L490.5,488.5 L490.5,486.5 L496.5,486.5 L496.5,485.5 L501.5,485.5 L501.5,490.5 L507.5,490.5 L507.5,491.5 L512.5,491.5 L512.5,494.5 L518.5,494.5 L518.5,499.5 L523.5,499.5 L523.5,503.5 L529.5,503.5 L529.5,500.5 L534.5,500.5 L534.5,500.5 L540.5,500.5 L540.5,503.5 L546.5,503.5 L546.5,507.5 L551.5,507.5 L551.5,506.5 L557.5,506.5 L557.5,508.5 L562.5,508.5 L562.5,506.5 L568.5,506.5 L568.5,508.5 L573.5,508.5 L573.5,510.5 L579.5,510.5 L579.5,509.5 L584.5,509.5 L584.5,511.5 L590.5,511.5 L590.5,510.5 L595.5,510.5 L595.5,511.5 L601.5,511.5 L601.5,509.5 L606.5,509.5 L606.5,510.5 L612.5,510.5 L612.5,509.5 L617.5,509.5 L617.5,510.5 L623.5,510.5 L623.5,512.5 L628.5,512.5 L628.5,511.5 L634.5,511.5 L634.5,512.5" fill="none" stroke="#000" stroke-width="1"/>
<path d="M197.5,512.5 L197.5,511.5 L203.5,511.5 L203.5,511.5 L208.5,511.5 L208.5,511.5 L214.5,511.5 L214.5,512.5 L219.5,512.5 L219.5,509.5 L225.5,509.5 L225.5,506.5 L230.5,506.5 L230.5,506.5 L236.5,506.5 L236.5,503.5 L241.5,503.5 L241.5,500.5 L247.5,500.5 L247.5,497.5 L252.5,497.5 L252.5,484.5 L258.5,484.5 L258.5,479.5 L263.5,479.5 L263.5,464.5 L269.5,464.5 L269.5,452.5 L275.5,452.5 L275.5,433.5 L280.5,433.5 L280.5,421.5 L286.5,421.5 L286.5,406.5 L291.5,406.5 L291.5,388.5 L297.5,388.5 L297.5,371.5 L302.5,371.5 L302.5,364.5 L308.5,364.5 L308.5,352.5 L313.5,352.5 L313.5,352.5 L319.5,352.5 L319.5,338.5 L324.5,338.5 L324.5,342.5 L330.5,342.5 L330.5,346.5 L335.5,346.5 L335.5,355.5 L341.5,355.5 L341.5,367.5 L346.5,367.5 L346.5,382.5 L352.5,382.5 L352.5,399.5 L358.5,399.5 L358.5,415.5 L363.5,415.5 L363.5,432.5 L369.5,432.5 L369.5,447.5 L374.5,447.5 L374.5,461.5 L380.5,461.5 L380.5,473.5 L385.5,473.5 L385.5,482.5 L391.5,482.5 L391.5,490.5 L396.5,490.5 L396.5,497.5 L402.5,497.5 L402.5,501.5 L407.5,501.5 L407.5,505.5 L413.5,505.5 L413.5,507.5 L418.5,507.5 L418.5,509.5 L424.5,509.5 L424.5,510.5 L429.5,510.5 L429.5,511.5 L435.5,511.5 L435.5,511.5 L440.5,511.5 L440.5,512.5 L446.5,512.5 L446.5,512.5 L452.5,512.5 L452.5,512.5 L457.5,512.5 L457.5,512.5 L463.5,512.5 L463.5,512.5 L468.5,512.5 L468.5,512.5 L474.5,512.5 L474.5,512.5 L479.5,512.5 L479.5,512.5 L485.5,512.5 L485.5,512.5 L490.5,512.5 L490.5,512.5 L496.5,512.5 L496.5,512.5 L501.5,512.5 L501.5,512.5 L507.5,512.5 L507.5,512.5 L512.5,512.5 L512.5,512.5 L518.5,512.5 L518.5,512.5 L523.5,512.5 L523.5,512.5 L529.5,512.5 L529.5,512.5 L534.5,512.5 L534.5,512.5 L540.5,512.5 L540.5,512.5 L546.5,512.5 L546.5,512.5 L551.5,512.5 L551.5,512.5 L557.5,512.5 L557.5,512.5 L562.5,512.5 L562.5,512.5 L568.5,512.5 L568.5,512.5 L573.5,512.5 L573.5,512.5 L579.5,512.5 L579.5,512.5 L584.5,512.5 L584.5,512.5 L590.5,512.5 L590.5,512.5 L595.5,512.5 L595.5,512.5 L601.5,512.5 L601.5,512.5 L606.5,512.5 L606.5,512.5 L612.5,512.5 L612.5,512.5 L617.5,512.5 L617.5,512.5 L623.5,512.5 L623.5,512.5 L628.5,512.5 L628.5,512.5 L634.5,512.5 L634.5,512.5Z" fill="#debb87" stroke="none"/><path d="M197.5,512.5 L197.5,511.5 L203.5,511.5 L203.5,511.5 L208.5,511.5 L208.5,511.5 L214.5,511.5 L214.5,512.5 L219.5,512.5 L219.5,509.5 L225.5,509.5 L225.5,506.5 L230.5,506.5 L230.5,506.5 L236.5,506.5 L236.5,503.5 L241.5,503.5 L241.5,500.5 L247.5,500.5 L247.5,497.5 L252.5,497.5 L252.5,484.5 L258.5,484.5 L258.5,479.5 L263.5,479.5 L263.5,464.5 L269.5,464.5 L269.5,452.5 L275.5,452.5 L275.5,433.5 L280.5,433.5 L280.5,421.5 L286.5,421.5 L286.5,406.5 L291.5,406.5 L291.5,388.5 L297.5,388.5 L297.5,371.5 L302.5,371.5 L302.5,364.5 L308.5,364.5 L308.5,352.5 L313.5,352.5 L313.5,352.5 L319.5,352.5 L319.5,338.5 L324.5,338.5 L324.5,342.5 L330.5,342.5 L330.5,346.5 L335.5,346.5 L335.5,355.5 L341.5,355.5 L341.5,367.5 L346.5,367.5 L346.5,382.5 L352.5,382.5 L352.5,399.5 L358.5,399.5 L358.5,415.5 L363.5,415.5 L363.5,432.5 L369.5,432.5 L369.5,447.5 L374.5,447.5 L374.5,461.5 L380.5,461.5 L380.5,473.5 L385.5,473.5 L385.5,482.5 L391.5,482.5 L391.5,490.5 L396.5,490.5 L396.5,497.5 L402.5,497.5 L402.5,501.5 L407.5,501.5 L407.5,505.5 L413.5,505.5 L413.5,507.5 L418.5,507.5 L418.5,509.5 L424.5,509.5 L424.5,510.5 L429.5,510.5 L429.5,511.5 L435.5,511.5 L435.5,511.5 L440.5,511.5 L440.5,512.5 L446.5,512.5 L446.5,512.5 L452.5,512.5 L452.5,512.5 L457.5,512.5 L457.5,512.5 L463.5,512.5 L463.5,512.5 L468.5,512.5 L468.5,512.5 L474.5,512.5 L474.5,512.5 L479.5,512.5 L479.5,512.5 L485.5,512.5 L485.5,512.5 L490.5,512.5 L490.5,512.5 L496.5,512.5 L496.5,512.5 L501.5,512.5 L501.5,512.5 L507.5,512.5 L507.5,512.5 L512.5,512.5 L512.5,512.5 L518.5,512.5 L518.5,512.5 L523.5,512.5 L523.5,512.5 L529.5,512.5 L529.5,512.5 L534.5,512.5 L534.5,512.5 L540.5,512.5 L540.5,512.5 L546.5,512.5 L546.5,512.5 L551.5,512.5 L551.5,512.5 L557.5,512.5 L557.5,512.5 L562.5,512.5 L562.5,512.5 L568.5,512.5 L568.5,512.5 L573.5,512.5 L573.5,512.5 L579.5,512.5 L579.5,512.5 L584.5,512.5 L584.5,512.5 L590.5,512.5 L590.5,512.5 L595.5,512.5 L595.5,512.5 L601.5,512.5 L601.5,512.5 L606.5,512.5 L606.5,512.5 L612.5,512.5 L612.5,512.5 L617.5,512.5 L617.5,512.5 L623.5,512.5 L623.5,512.5 L628.5,512.5 L628.5,512.5 L634.5,512.5 L634.5,512.5" fill="none" stroke="#000" stroke-width="1"/>
<path d="M385.5,512.5 L385.5,512.5 L391.5,512.5 L391.5,512.5 L396.5,512.5 L396.5,512.5 L402.5,512.5 L402.5,512.5 L407.5,512.5 L407.5,512.5 L413.5,512.5 L413.5,512.5 L418.5,512.5 L418.5,511.5 L424.5,511.5 L424.5,511.5 L429.5,511.5 L429.5,510.5 L435.5,510.5 L435.5,509.5 L440.5,509.5 L440.5,507.5 L446.5,507.5 L446.5,505.5 L452.5,505.5 L452.5,502.5 L457.5,502.5 L457.5,499.5 L463.5,499.5 L463.5,495.5 L468.5,495.5 L468.5,491.5 L474.5,491.5 L474.5,488.5 L479.5,488.5 L479.5,486.5 L485.5,486.5 L485.5,511.5 L490.5,511.5 L490.5,512.5Z" fill="#cf5e61" stroke="none"/><path d="M385.5,512.5 L385.5,512.5 L391.5,512.5 L391.5,512.5 L396.5,512.5 L396.5,512.5 L402.5,512.5 L402.5,512.5 L407.5,512.5 L407.5,512.5 L413.5,512.5 L413.5,512.5 L418.5,512.5 L418.5,511.5 L424.5,511.5 L424.5,511.5 L429.5,511.5 L429.5,510.5 L435.5,510.5 L435.5,509.5 L440.5,509.5 L440.5,507.5 L446.5,507.5 L446.5,505.5 L452.5,505.5 L452.5,502.5 L457.5,502.5 L457.5,499.5 L463.5,499.5 L463.5,495.5 L468.5,495.5 L468.5,491.5 L474.5,491.5 L474.5,488.5 L479.5,488.5 L479.5,486.5 L485.5,486.5 L485.5,511.5 L490.5,511.5 L490.5,512.5" fill="none" stroke="#000" stroke-width="1"/></svg><div class="t b k ax" style="left:20px;width:55px;top:501px;text-align:right">0</div><div class="t b k ax" style="left:20px;width:55px;top:456px;text-align:right">50</div><div class="t b k ax" style="left:20px;width:55px;top:411px;text-align:right">100</div><div class="t b k ax" style="left:20px;width:55px;top:365px;text-align:right">150</div><div class="t b k ax" style="left:20px;width:55px;top:320px;text-align:right">200</div><div class="t b k ax" style="left:20px;width:55px;top:275px;text-align:right">250</div><div class="t b k ax" style="left:20px;width:55px;top:230px;text-align:right">300</div><div class="t b k ax" style="left:20px;width:55px;top:185px;text-align:right">350</div><div class="t b k ax" style="left:20px;width:55px;top:139px;text-align:right">400</div><div class="t b k ax" style="left:51.0px;width:60px;top:520px;text-align:center">−4</div><div class="t b k ax" style="left:120.0px;width:60px;top:520px;text-align:center">−3</div><div class="t b k ax" style="left:189.0px;width:60px;top:520px;text-align:center">−2</div><div class="t b k ax" style="left:258.0px;width:60px;top:520px;text-align:center">−1</div><div class="t b k ax" style="left:327.0px;width:60px;top:520px;text-align:center">0</div><div class="t b k ax" style="left:396.0px;width:60px;top:520px;text-align:center">1</div><div class="t b k ax" style="left:465.0px;width:60px;top:520px;text-align:center">2</div><div class="t b k ax" style="left:534.0px;width:60px;top:520px;text-align:center">3</div><div class="t b k ax" style="left:603.0px;width:60px;top:520px;text-align:center">4</div><div style="left:21px;top:79px;width:345px;height:24px;background:#000;"></div><div style="left:18px;top:76px;width:347px;height:26px;background:#000;"></div><div style="left:19px;top:77px;width:345px;height:24px;background:#f2f2f2;"></div><div class="t b k" style="left:19px;top:77px;width:345px;height:24px;line-height:21px;text-align:center;font-size:18px;letter-spacing:0.08px;color:#000">This is the total distribution</div><div style="left:554px;top:79px;width:138px;height:78px;background:#000;"></div><div style="left:551px;top:76px;width:140px;height:80px;background:#000;"></div><div style="left:552px;top:77px;width:138px;height:78px;background:#f2f2f2;"></div><div class="t st" style="left:558.3px;top:75px;letter-spacing:0.75px"><span>total</span></div><div class="t st" style="left:558.3px;top:95px;letter-spacing:0.3px"><span>Nent</span></div><div class="t st" style="left:597.5px;top:95px;letter-spacing:0.3px"><span>=</span></div><div class="t st" style="left:610.5px;top:95px;letter-spacing:-0.1px"><span>30000</span></div><div class="t st" style="left:558.3px;top:115px;letter-spacing:0.3px"><span>Mean</span></div><div class="t st" style="left:603.3px;top:115px;letter-spacing:0.3px"><span>=</span></div><div class="t st" style="left:616px;top:115px;letter-spacing:0px"><span>−0.643769</span></div><div class="t st" style="left:558.3px;top:135px;letter-spacing:1.1px"><span>RMS</span></div><div class="t st" style="left:603.3px;top:135px;letter-spacing:0.3px"><span>=</span></div><div class="t st" style="left:616px;top:135px;letter-spacing:-0.15px"><span>1.4163</span></div><div style="left:330px;top:142px;width:155px;height:414px;background:#9c7c80;"></div><div style="left:330px;top:142px;width:155px;height:2px;background:#d8c8cc;"></div><div style="left:330px;top:142px;width:2px;height:414px;background:#d8c8cc;"></div><div style="left:332px;top:554px;width:153px;height:2px;background:#4c3c40;"></div><div style="left:483px;top:144px;width:2px;height:412px;background:#4c3c40;"></div><div style="left:331px;top:554px;width:1px;height:1px;background:#4c3c40;"></div><div style="left:483px;top:143px;width:1px;height:1px;background:#4c3c40;"></div><div class="t b" style="left:332px;top:144px;width:151px;height:21px;line-height:21px;text-align:center;font-size:14px;color:#fff">TH1F::total</div><div style="left:332px;top:165px;width:151px;height:1px;background:#4c3c40;"></div><div style="left:332px;top:166px;width:151px;height:1px;background:#d8c8cc;"></div><div style="left:332px;top:167px;width:151px;height:1px;background:#4c3c40;"></div><div style="left:332px;top:168px;width:151px;height:1px;background:#d8c8cc;"></div><div style="left:332px;top:294px;width:151px;height:1px;background:#4c3c40;"></div><div style="left:332px;top:295px;width:151px;height:1px;background:#d8c8cc;"></div><div style="left:332px;top:346px;width:151px;height:1px;background:#4c3c40;"></div><div style="left:332px;top:347px;width:151px;height:1px;background:#d8c8cc;"></div><div style="left:332px;top:473px;width:151px;height:1px;background:#4c3c40;"></div><div style="left:332px;top:474px;width:151px;height:1px;background:#d8c8cc;"></div><div style="left:332px;top:500px;width:151px;height:1px;background:#4c3c40;"></div><div style="left:332px;top:501px;width:151px;height:1px;background:#d8c8cc;"></div><div style="left:332px;top:527px;width:151px;height:1px;background:#4c3c40;"></div><div style="left:332px;top:528px;width:151px;height:1px;background:#d8c8cc;"></div><div style="left:332px;top:219px;width:151px;height:2px;background:#d8c8cc;"></div><div style="left:332px;top:219px;width:2px;height:25px;background:#d8c8cc;"></div><div style="left:334px;top:242px;width:149px;height:2px;background:#4c3c40;"></div><div style="left:481px;top:221px;width:2px;height:23px;background:#4c3c40;"></div><div style="left:333px;top:242px;width:1px;height:1px;background:#4c3c40;"></div><div style="left:481px;top:220px;width:1px;height:1px;background:#4c3c40;"></div><div class="t b pm" style="left:336.5px;top:169px;height:25px;line-height:25px;color:#fff">Add</div><div class="t b pm" style="left:336.5px;top:194px;height:25px;line-height:25px;color:#fff">Divide</div><div class="t b pm" style="left:336.5px;top:219px;height:25px;line-height:25px;color:#fff">Fit</div><div class="t b pm" style="left:336.5px;top:244px;height:25px;line-height:25px;color:#fff">SetMaximum</div><div class="t b pm" style="left:336.5px;top:269px;height:25px;line-height:25px;color:#fff">SetMinimum</div><div class="t b pm" style="left:336.5px;top:296px;height:25px;line-height:25px;color:#fff">SetName</div><div class="t b pm" style="left:336.5px;top:321px;height:25px;line-height:25px;color:#fff">SetTitle</div><div class="t b pm" style="left:336.5px;top:348px;height:25px;line-height:25px;color:#fff">Delete</div><div class="t b pm" style="left:336.5px;top:373px;height:25px;line-height:25px;color:#fff">DrawClass</div><div class="t b pm" style="left:336.5px;top:398px;height:25px;line-height:25px;color:#fff">Dump</div><div class="t b pm" style="left:336.5px;top:423px;height:25px;line-height:25px;color:#fff">Inspect</div><div class="t b pm" style="left:336.5px;top:448px;height:25px;line-height:25px;color:#fff">SetDrawOption</div><div class="t b pm" style="left:336.5px;top:475px;height:25px;line-height:25px;color:#fff">SetLineAttributes</div><div class="t b pm" style="left:336.5px;top:502px;height:25px;line-height:25px;color:#fff">SetFillAttributes</div><div class="t b pm" style="left:336.5px;top:529px;height:25px;line-height:25px;color:#fff">SetMarkerAttributes</div>
</body></html>
